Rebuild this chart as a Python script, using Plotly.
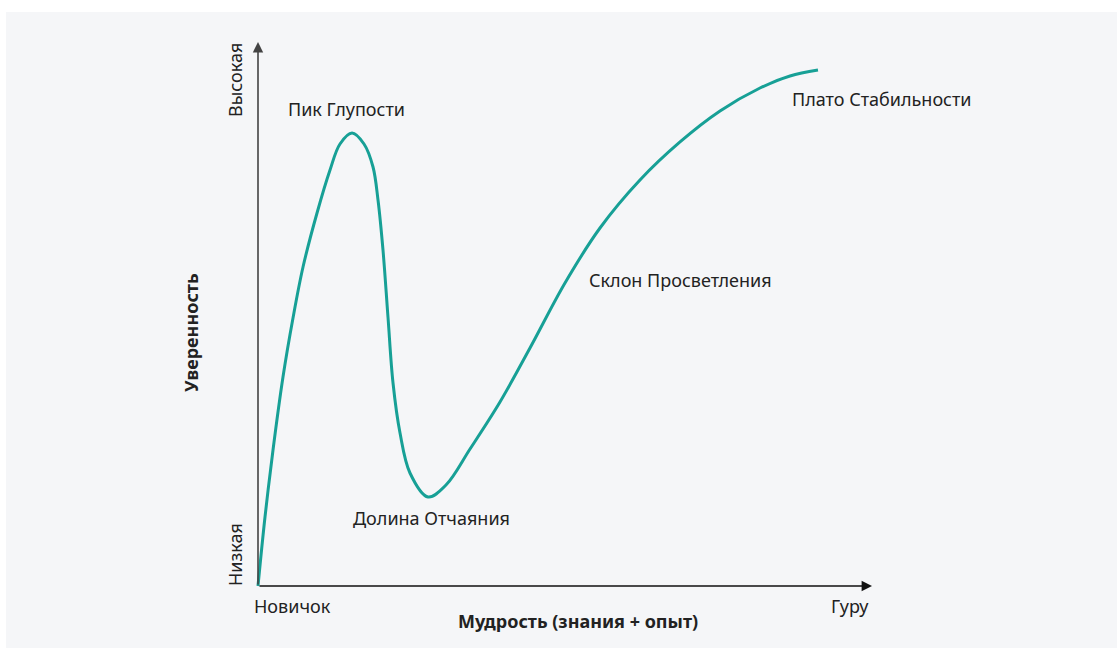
import plotly.graph_objects as go

W, H = 1117, 648
X0_PX, Y0_PX = 258, 586
SX, SY = 5.6, 5.16

# Curve data: wisdom (x, 0..100) vs confidence (y, 0..100)
wisdom = [0, 1.25, 2.68, 4.46, 6.25, 8.04, 10.54, 12.86, 14.64, 16.79, 18.93, 20.54,
          21.43, 22.32, 23.21, 24.11, 25.36, 27.14, 30.36, 33.57, 37.86,
          43.21, 48.57, 54.82, 61.07, 68.21, 75.36, 82.5, 89.64, 95.0, 100]
confidence = [0, 13.37, 26.36, 40.5, 51.94, 61.82, 72.29, 80.62, 85.66, 87.79, 85.66, 81.2,
              74.81, 65.12, 52.13, 39.34, 29.65, 21.9, 17.25, 19.57, 26.55,
              35.66, 46.12, 58.72, 69.38, 78.68, 86.05, 92.05, 96.51, 98.84, 100]

stage_labels = ["Пик Глупости", "Долина Отчаяния", "Склон Просветления", "Плато Стабильности"]
stage_x = [15.8, 30.9, 75.4, 111.4]
stage_y = [92.4, 13.2, 59.3, 94.4]

x_tick_labels = ["Новичок", "Гуру"]
y_tick_labels = ["Низкая", "Высокая"]
x_title = "Мудрость (знания + опыт)"
y_title = "Уверенность"


def px_x(px):
    return (px - X0_PX) / SX


def px_y(py):
    return (Y0_PX - py) / SY


FONT = "Noto Sans"
TEXT_COLOR = "#222222"
FS = 18

fig = go.Figure()
fig.add_trace(go.Scatter(
    x=wisdom, y=confidence, mode="lines",
    line=dict(color="#17a096", width=3, shape="spline", smoothing=1.0),
    hoverinfo="skip", showlegend=False,
))

annotations = []
# axes arrows
annotations.append(dict(x=px_x(872), y=0, ax=0, ay=0, xref="x", yref="y", axref="x", ayref="y",
                        showarrow=True, arrowhead=2, arrowsize=1.3, arrowwidth=1.6,
                        arrowcolor="#111111", text="", standoff=0))
annotations.append(dict(x=0, y=px_y(42), ax=0, ay=0, xref="x", yref="y", axref="x", ayref="y",
                        showarrow=True, arrowhead=2, arrowsize=1.3, arrowwidth=1.6,
                        arrowcolor="#444444", text="", standoff=0))

for lbl, lx, ly in zip(stage_labels, stage_x, stage_y):
    annotations.append(dict(x=lx, y=ly, xref="x", yref="y", text=lbl, showarrow=False,
                            font=dict(family=FONT, size=FS, color=TEXT_COLOR)))

for lbl, lx in zip(x_tick_labels, [px_x(292), px_x(850)]):
    annotations.append(dict(x=lx, y=px_y(606), xref="x", yref="y", text=lbl, showarrow=False,
                            font=dict(family=FONT, size=FS, color=TEXT_COLOR)))
for lbl, ly in zip(y_tick_labels, [px_y(555), px_y(80)]):
    annotations.append(dict(x=px_x(235), y=ly, xref="x", yref="y", text=lbl, showarrow=False,
                            textangle=-90, font=dict(family=FONT, size=FS, color=TEXT_COLOR)))

annotations.append(dict(x=px_x(578), y=px_y(621), xref="x", yref="y", text="<b>" + x_title + "</b>",
                        showarrow=False, font=dict(family=FONT, size=FS, color=TEXT_COLOR)))
annotations.append(dict(x=px_x(191), y=px_y(333), xref="x", yref="y", text="<b>" + y_title + "</b>",
                        showarrow=False, textangle=-90, font=dict(family=FONT, size=FS, color=TEXT_COLOR)))

fig.update_layout(
    width=W, height=H,
    margin=dict(l=0, r=0, t=0, b=0),
    paper_bgcolor="white",
    plot_bgcolor="rgba(0,0,0,0)",
    xaxis=dict(range=[px_x(0), px_x(W)], visible=False, fixedrange=True),
    yaxis=dict(range=[px_y(H), px_y(0)], visible=False, fixedrange=True),
    annotations=annotations,
    shapes=[dict(type="rect", xref="paper", yref="paper", x0=6 / W, x1=1.0, y0=0, y1=1 - 12 / H,
                 fillcolor="#f5f6f8", line=dict(width=0), layer="below")],
    showlegend=False,
)

fig.write_html("out.html", config={"displayModeBar": False},
               post_script="document.body.style.margin='0';document.body.style.overflow='hidden';")
